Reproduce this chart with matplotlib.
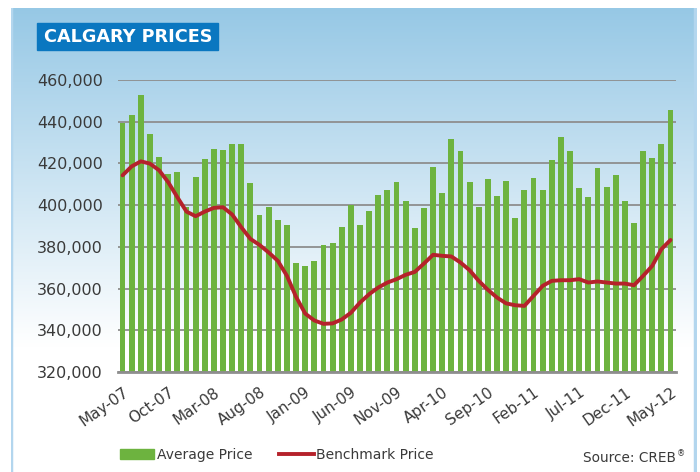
import matplotlib.pyplot as plt
import numpy as np
from matplotlib.patches import Rectangle
from matplotlib.lines import Line2D

# monthly data, May-07 .. May-12
average_price = [439500, 443300, 452800, 434200, 423200, 414700, 416000, 399000, 413600, 422100,
                 426800, 426300, 429300, 429300, 410600, 395500, 399000, 393100, 390700, 372500,
                 370800, 373200, 381000, 381700, 389400, 400100, 390700, 397200, 405100, 407500,
                 411000, 402100, 388900, 398500, 418300, 405600, 431600, 426100, 411000, 399000,
                 412300, 404500, 411800, 393700, 407500, 413000, 407500, 421500, 432900, 426100,
                 408200, 403800, 417800, 408600, 414600, 402100, 391300, 425800, 422600, 429300,
                 445600]
benchmark_price = [414300, 418600, 421000, 419900, 416700, 411000, 403800, 396900, 394700, 396900,
                   398700, 399000, 395500, 389400, 383800, 380900, 377300, 373300, 366100, 356000,
                   348000, 344700, 343100, 343300, 345200, 348400, 353300, 357300, 360500, 362900,
                   364500, 366600, 368000, 372000, 376200, 375700, 375400, 372500, 368800, 363700,
                   359400, 355700, 352900, 352000, 351700, 356500, 361300, 363700, 364000, 364000,
                   364500, 362900, 363400, 362900, 362400, 362400, 361600, 366100, 370900, 378900,
                   383300]
tick_labels = ["May-07", "Oct-07", "Mar-08", "Aug-08", "Jan-09", "Jun-09", "Nov-09",
               "Apr-10", "Sep-10", "Feb-11", "Jul-11", "Dec-11", "May-12"]
y_ticks = [320000, 340000, 360000, 380000, 400000, 420000, 440000, 460000]

W, H = 700, 472
fig = plt.figure(figsize=(W / 100, H / 100), dpi=100)

# panel background: blue gradient fading to white
bg = fig.add_axes([11 / W, 0, 686 / W, 1 - 8 / H])
bg.set_axis_off()
t = np.linspace(0, 1, 300)[:, None]
top = np.array([0.59, 0.785, 0.90])
fade = np.clip(t / 0.73, 0, 1)
grad = top[None, None, :] * (1 - fade[..., None]) + fade[..., None]
bg.imshow(grad, aspect="auto", extent=[0, 1, 0, 1], origin="upper")
bg.set_xlim(0, 1)
bg.set_ylim(0, 1)
for xb in (0.0, 0.997):
    bg.axvline(xb, color="#b3d6ee", lw=2.5)

# title box
fig.patches.append(Rectangle((37 / W, 1 - 50 / H), 181 / W, 27 / H,
                             transform=fig.transFigure, color="#0a77c0", zorder=3))
fig.text(128 / W, 1 - 37 / H, "CALGARY PRICES", color="white", fontsize=12.7,
         fontweight="bold", ha="center", va="center", zorder=4)

ax = fig.add_axes([118 / W, 1 - 372 / H, 558 / W, 292 / H])
ax.patch.set_alpha(0)
x = np.arange(len(average_price))
bars = ax.bar(x, average_price, width=0.64, color="#6db33f", zorder=2)
line, = ax.plot(x, benchmark_price, color="#b5222b", lw=2.8, zorder=3,
                solid_joinstyle="round", solid_capstyle="round")

ax.set_xlim(-0.5, 60.6)
ax.set_ylim(320000, 460000)
ax.set_yticks(y_ticks)
ax.set_yticklabels([f"{v:,}" for v in y_ticks])
ax.set_xticks(x[::5])
ax.set_xticklabels(tick_labels, rotation=35, ha="right", va="top", rotation_mode="anchor")
ax.tick_params(axis="both", length=0, colors="#3a3a3a", labelsize=11.5)
ax.tick_params(axis="y", pad=11)
ax.tick_params(axis="x", pad=9, labelsize=11)
ax.yaxis.grid(True, color="#8e8e8e", lw=1.3)
ax.set_axisbelow(True)
for s in ("top", "right", "left"):
    ax.spines[s].set_visible(False)
ax.spines["bottom"].set_color("#8e8e8e")
ax.spines["bottom"].set_linewidth(2)

handles = [Rectangle((0, 0), 1, 1, color="#6db33f"),
           Line2D([], [], color="#b5222b", lw=2.8)]
fig.legend(handles, ["Average Price", "Benchmark Price"], ncol=2, frameon=False,
           loc="center left", bbox_to_anchor=(107 / W, 1 - 455 / H), fontsize=10,
           handlelength=2.5, handletextpad=0.2, columnspacing=1.9, labelcolor="#3a3a3a")
fig.text(676 / W, 1 - 458 / H, "Source: CREB", ha="right", va="center",
         fontsize=9.8, color="#3a3a3a")
fig.text(677 / W, 1 - 454 / H, "\u00ae", ha="left", va="center",
         fontsize=6, color="#3a3a3a")

fig.savefig("out.png", dpi=100)
